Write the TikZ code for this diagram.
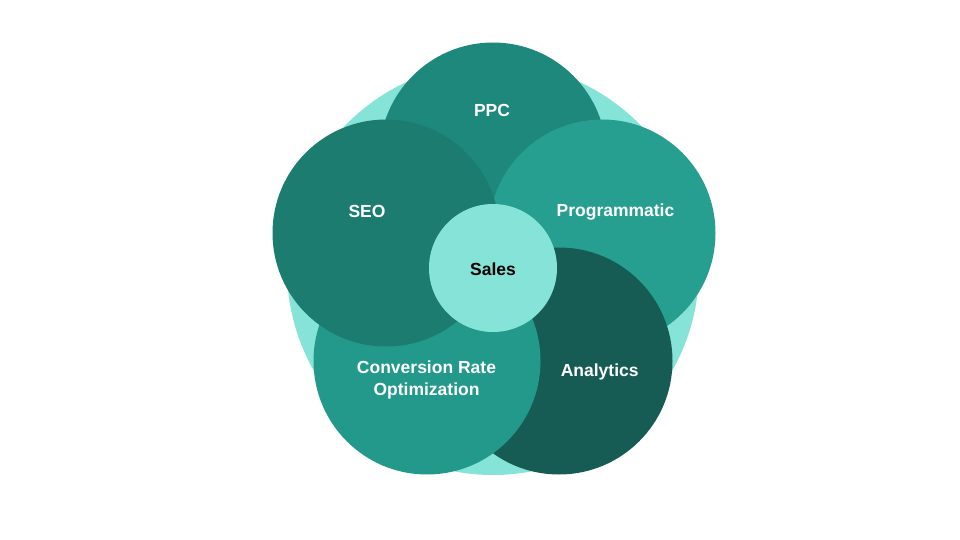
\documentclass[tikz,border=0pt]{standalone}
\usepackage{fontspec}
\setmainfont{Liberation Sans}
\definecolor{lightteal}{HTML}{85E3D7}
\definecolor{ppcteal}{HTML}{1E887C}
\definecolor{seoteal}{HTML}{1C7C70}
\definecolor{progteal}{HTML}{269E90}
\definecolor{darkteal}{HTML}{165C54}
\definecolor{croteal}{HTML}{23998B}

\begin{document}
\begin{tikzpicture} [x=1pt,y=-1pt,
  blob/.style={circle,inner sep=0pt,minimum size=227pt},
  lbl/.style={font=\bfseries\fontsize{17.5}{22}\selectfont,text=white,align=center,anchor=base,inner sep=0pt}]

  \useasboundingbox (0,0) rectangle (960,540);

  \node[circle,inner sep=0pt,minimum size=412pt,fill=lightteal] (back) at (493,269) {};
  \node[blob,fill=ppcteal] (ppc) at (493,156) {};
  \node[blob,fill=progteal] (prog) at (602,233) {};
  \node[blob,fill=darkteal] (anal) at (559,361) {};
  \node[blob,fill=croteal] (cro) at (427,361) {};
  \node[blob,fill=seoteal] (seo) at (386,233) {};
  \node[circle,inner sep=0pt,minimum size=128pt,fill=lightteal] (sales) at (493,268) {};

  \node[lbl] (ppctext) at (492,116.7) {PPC};
  \node[lbl] (seotext) at (367,217) {SEO};
  \node[lbl] (progtext) at (615.5,216.7) {Programmatic};
  \node[lbl,text=black] (salestext) at (493,275.7) {Sales};
  \node[lbl] (analtext) at (599.7,376) {Analytics};
  \node[lbl] (crotext) at (426.5,395) {Conversion Rate\\Optimization};

\end{tikzpicture}
\end{document}
